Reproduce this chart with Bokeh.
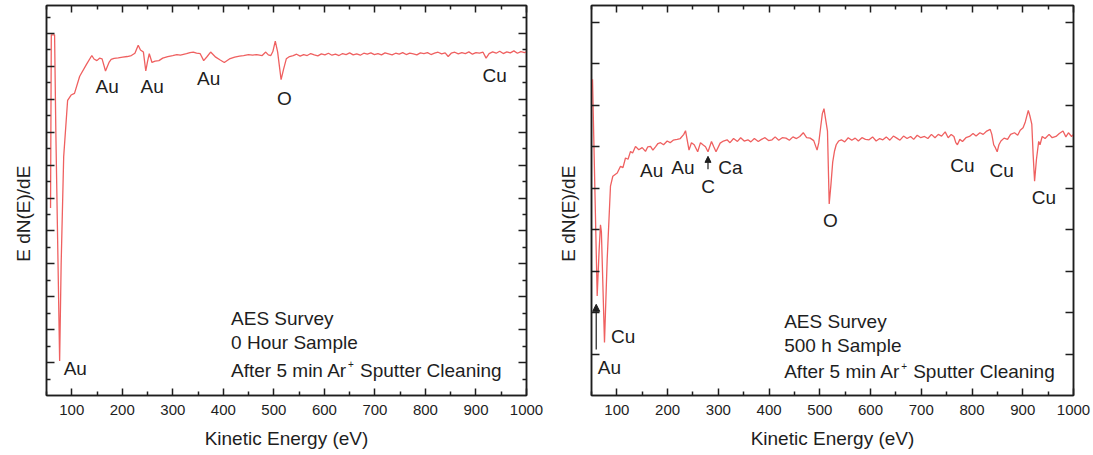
import math
from bokeh.plotting import figure
from bokeh.models import Range1d, FixedTicker, LinearAxis, Label, Arrow, NormalHead
from bokeh.layouts import row
from bokeh.embed import file_html
from bokeh.resources import INLINE

# ---------------- data ----------------
# 0 hour sample (kinetic energy eV, E dN(E)/dE arbitrary units)
energy_0h = [58, 59.5, 66, 68.5, 76, 79, 84, 91.8, 98.7, 105.4, 115.7, 129.4, 139.7, 144, 149.7,
             155, 160, 166.8, 173.7, 178, 183.8, 192, 200.8, 210, 218, 225, 231.5, 236, 241.8,
             246.5, 250, 253.4, 258.8, 265, 272.5, 280, 290, 299.8, 308, 315, 327.1, 334, 340.5,
             347, 354.2, 361.1, 368, 374.8, 384.9, 393, 401.9, 412, 422.5, 432, 440, 449.6, 458,
             466, 476.9, 483.9, 489, 494, 498, 502.8, 507.5, 511, 514.3, 519, 524.6, 531, 538.3,
             545, 552, 559, 566, 573, 580, 587, 594, 601, 608, 615, 622, 629, 636, 643, 650, 657,
             664, 671, 678, 685, 692, 699, 706, 713, 720, 727, 734, 741, 748, 755, 762, 769, 776,
             783, 790, 797, 804, 811, 818, 825, 832, 839, 845, 851, 858, 865, 872, 879, 886, 893,
             900, 907, 914, 920, 926, 933, 940, 947, 954, 961, 968, 975, 982, 989, 996, 1000]
signal_0h = [11.4, 21.92, 21.92, 16.0, 2.1, 8.0, 14.5, 17.94, 18.26, 18.36, 19.40, 20.14, 20.66,
             20.45, 20.35, 20.5, 20.46, 19.72, 20.24, 20.42, 20.49, 20.52, 20.56, 20.6, 20.66, 20.8,
             21.29, 21.0, 20.87, 19.72, 20.3, 20.77, 20.24, 20.32, 20.35, 20.5, 20.6, 20.66, 20.72,
             20.68, 20.77, 20.84, 20.87, 20.8, 20.77, 20.35, 20.6, 20.87, 20.56, 20.4, 20.24, 20.45,
             20.56, 20.62, 20.66, 20.71, 20.68, 20.72, 20.66, 20.87, 20.7, 20.66, 20.9, 21.54, 20.87,
             20.0, 19.20, 19.8, 20.46, 20.6, 20.66,
             20.74, 20.62, 20.72, 20.66, 20.78, 20.70, 20.64, 20.76, 20.70, 20.80, 20.68, 20.74,
             20.66, 20.78, 20.72, 20.82, 20.70, 20.76, 20.68, 20.80, 20.74, 20.82, 20.72, 20.78,
             20.70, 20.82, 20.76, 20.70, 20.80, 20.74, 20.84, 20.72, 20.80, 20.76, 20.70, 20.82,
             20.78, 20.84, 20.72, 20.80, 20.86, 20.76, 20.82, 20.60, 20.80, 20.86, 20.76, 20.84,
             20.78, 20.88, 20.74, 20.84, 20.80, 20.86, 20.50, 20.78, 20.88, 20.80, 20.92, 20.78,
             20.88, 20.82, 20.94, 20.80, 20.90, 20.84, 20.88]

# 500 h sample
energy_500h = [52, 61.2, 65, 67.7, 69.5, 75.6, 80.9, 87.4, 92, 100.7, 107.2, 112, 117, 122, 126.9,
               131, 136.7, 143.2, 149.9, 156.4, 161, 166.3, 171, 176.1, 181, 186, 192, 199.2, 205,
               211, 218.9, 225, 231.9, 235.3, 242.2, 247, 252.4, 259.3, 264.8, 269.6, 274.7, 279.6,
               286.5, 291, 295.4, 303.6, 310, 317.2, 323, 330, 337.7, 344, 351, 358.2, 364, 371,
               378.7, 385, 392, 399, 405.9, 412, 419, 426, 433.3, 440, 447, 454, 460.5, 467.4, 474,
               481, 488, 494.6, 498, 501.5, 505, 508.2, 511, 515.1, 518.5, 522, 525.4, 529, 532.3,
               537, 542.5, 549, 556, 563, 569.7, 576, 583, 590, 597.1, 604, 611, 618, 624.3, 631,
               638, 645, 651.7, 658, 665, 672, 678.9, 685, 692, 699, 706.3, 713, 720, 727, 733.5,
               740, 747.1, 753, 759, 764.3, 768, 771.2, 776, 781.2, 788, 795, 802, 808, 815.5, 822,
               829, 835.8, 839, 842.7, 846, 849.6, 853, 857, 863.2, 870, 876, 883.7, 890, 895,
               900.6, 905, 910.9, 914, 917.8, 920.5, 923.3, 927, 931.4, 934, 938.3, 944, 951.9, 958,
               965.5, 972, 979.3, 985, 990, 996.3, 1000]
signal_500h = [7.63, 2.40, 3.5, 4.12, 3.95, 1.28, 3.28, 5.05, 5.29, 5.37, 5.53, 5.50, 5.73, 5.70,
               5.89, 5.85, 6.01, 5.93, 5.98, 5.89, 6.00, 6.01, 5.92, 6.00, 6.08, 6.10, 6.05, 6.14,
               6.10, 6.16, 6.18, 6.20, 6.30, 6.39, 5.92, 6.10, 6.05, 5.88, 6.10, 6.05, 6.00, 5.88,
               6.13, 6.00, 5.88, 6.09, 6.14, 6.17, 6.10, 6.20, 6.13, 6.22, 6.14, 6.17, 6.12, 6.20,
               6.13, 6.18, 6.22, 6.15, 6.17, 6.24, 6.16, 6.22, 6.21, 6.16, 6.24, 6.20, 6.25, 6.34,
               6.22, 6.21, 6.15, 5.92, 6.10, 6.46, 6.80, 6.92, 6.70, 6.38, 4.62, 5.10, 5.63, 5.90,
               6.05, 6.14, 6.17, 6.12, 6.22, 6.16, 6.21, 6.14, 6.22, 6.18, 6.17, 6.24, 6.14, 6.20,
               6.17, 6.24, 6.16, 6.26, 6.21, 6.16, 6.26, 6.20, 6.25, 6.18, 6.28, 6.22, 6.25, 6.20,
               6.30, 6.22, 6.30, 6.26, 6.36, 6.22, 6.30, 6.25, 6.10, 6.05, 6.18, 6.13, 6.22, 6.25,
               6.32, 6.26, 6.34, 6.30, 6.38, 6.42, 6.30, 6.05, 5.98, 5.88, 6.05, 6.14, 6.21, 6.18,
               6.30, 6.34, 6.28, 6.40, 6.46, 6.60, 6.88, 6.75, 6.55, 5.80, 5.17, 5.70, 6.13, 6.05,
               6.25, 6.20, 6.30, 6.22, 6.25, 6.32, 6.38, 6.24, 6.34, 6.25, 6.30]

x_ticks = [100, 200, 300, 400, 500, 600, 700, 800, 900, 1000]
x_minor = [50, 150, 250, 350, 450, 550, 650, 750, 850, 950]

FONT = "Liberation Sans"
INK = "#1e1e1e"
TRACE = "#ef6060"
TXT = "19px"


def style_axis(ax, ticks, minor, major_len, minor_len, show_labels):
    ax.ticker = FixedTicker(ticks=ticks, minor_ticks=minor)
    ax.major_tick_in = major_len
    ax.major_tick_out = 0
    ax.minor_tick_in = minor_len
    ax.minor_tick_out = 0
    ax.axis_line_color = INK
    ax.axis_line_width = 1.5
    ax.major_tick_line_color = INK
    ax.major_tick_line_width = 1.5
    ax.minor_tick_line_color = INK
    ax.minor_tick_line_width = 1.5
    if show_labels:
        ax.major_label_text_font = FONT
        ax.major_label_text_font_size = "15px"
        ax.major_label_text_color = INK
        ax.major_label_standoff = 9
    else:
        ax.major_label_overrides = {t: "" for t in ticks}
        ax.major_label_standoff = 0


def make_fig(width, left, ytop, yticks, yminor, ymaj, ymin):
    p = figure(width=width, height=455, x_range=Range1d(50, 1000), y_range=Range1d(0, ytop),
               min_border_left=left, min_border_right=20, min_border_top=5, min_border_bottom=60,
               output_backend="svg", toolbar_location=None)
    p.grid.visible = False
    p.outline_line_color = INK
    p.outline_line_width = 1.5
    xa = p.xaxis[0]
    style_axis(xa, x_ticks, x_minor, 7, 4, True)
    xa.axis_label = "Kinetic Energy (eV)"
    xa.axis_label_text_font = FONT
    xa.axis_label_text_font_size = TXT
    xa.axis_label_text_font_style = "normal"
    xa.axis_label_text_color = INK
    xa.axis_label_standoff = 10
    ya = p.yaxis[0]
    style_axis(ya, yticks, yminor, ymaj, ymin, False)
    # trailing no-break spaces shift the centred title slightly downward, as in the reference
    ya.axis_label = "E dN(E)/dE" + "\u00a0" * 5
    ya.axis_label_text_font = FONT
    ya.axis_label_text_font_size = TXT
    ya.axis_label_text_font_style = "normal"
    ya.axis_label_text_color = INK
    ya.axis_label_standoff = 13
    top = LinearAxis()
    style_axis(top, x_ticks, x_minor, 7, 4, False)
    p.add_layout(top, "above")
    right = LinearAxis()
    style_axis(right, yticks, yminor, ymaj, ymin, False)
    p.add_layout(right, "right")
    return p


def txt(p, x, y, s, size=TXT, align="center"):
    p.add_layout(Label(x=x, y=y, text=s, text_font=FONT, text_font_size=size, text_color=INK,
                       text_align=align, text_baseline="middle"))


# ---------------- left: 0 hour ----------------
p1 = make_fig(546, 46, 23.7, list(range(2, 24, 2)), list(range(1, 24, 2)), 8, 4)
p1.line(energy_0h, signal_0h, line_color=TRACE, line_width=1.3)
txt(p1, 170, 18.8, "Au")
txt(p1, 259, 18.8, "Au")
txt(p1, 371, 19.24, "Au")
txt(p1, 521, 18.05, "O")
txt(p1, 937, 19.45, "Cu")
txt(p1, 107, 1.62, "Au")
txt(p1, 415.3, 4.68, "AES Survey", align="left")
txt(p1, 415.3, 3.22, "0 Hour Sample", align="left")
txt(p1, 415.3, 1.54, "After 5 min Ar", align="left")
txt(p1, 415.3 + 117 / 0.5053, 1.54 + 6 / 16.45, "+", size="10px", align="left")
txt(p1, 415.3 + 129 / 0.5053, 1.54, "Sputter Cleaning", align="left")

# ---------------- right: 500 h ----------------
p2 = make_fig(547, 45, 9.41, list(range(1, 10)), [], 8, 0)
p2.line(energy_500h, signal_500h, line_color=TRACE, line_width=1.3)
txt(p2, 168.4, 5.42, "Au")
txt(p2, 230, 5.50, "Au")
txt(p2, 279.6, 5.04, "C")
txt(p2, 324, 5.50, "Ca")
txt(p2, 520.6, 4.23, "O")
txt(p2, 781, 5.56, "Cu")
txt(p2, 858.4, 5.44, "Cu")
txt(p2, 941.6, 4.78, "Cu")
txt(p2, 112.5, 1.43, "Cu")
txt(p2, 85.3, 0.68, "Au")
txt(p2, 429.8, 1.78, "AES Survey", align="left")
txt(p2, 429.8, 1.20, "500 h Sample", align="left")
txt(p2, 429.8, 0.57, "After 5 min Ar", align="left")
txt(p2, 429.8 + 117 / 0.5074, 0.57 + 6 / 41.4, "+", size="10px", align="left")
txt(p2, 429.8 + 129 / 0.5074, 0.57, "Sputter Cleaning", align="left")
p2.add_layout(Arrow(end=NormalHead(size=7, fill_color=INK, line_color=INK), x_start=59.3,
                    y_start=1.11, x_end=59.3, y_end=2.20, line_color=INK, line_width=1.2))
p2.add_layout(Arrow(end=NormalHead(size=6, fill_color=INK, line_color=INK), x_start=279.6,
                    y_start=5.46, x_end=279.6, y_end=5.77, line_color=INK, line_width=1.2))

layout = row(p1, p2)
open("out.html", "w").write(file_html(layout, INLINE))
